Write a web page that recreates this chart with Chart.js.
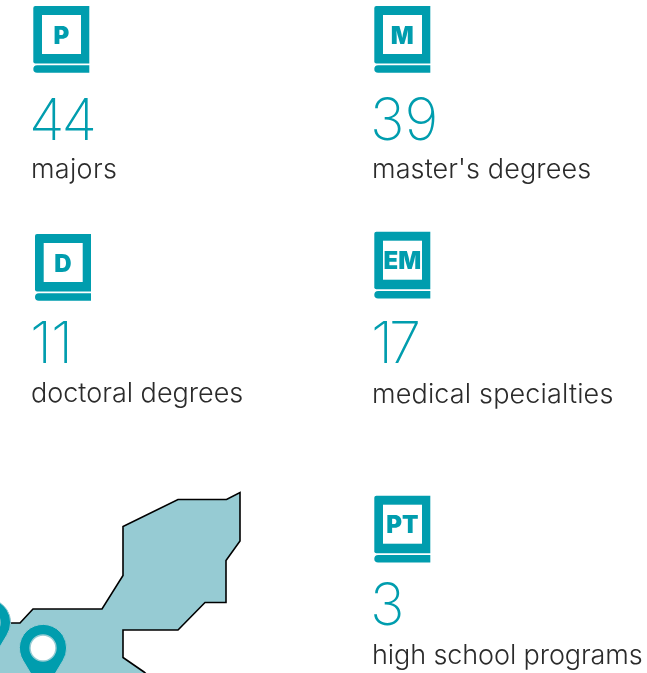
<!DOCTYPE html>
<html>
<head>
<meta charset="utf-8">
<script src="https://cdn.jsdelivr.net/npm/chart.js@4"></script>
<style>
html, body { margin: 0; padding: 0; background: #fff; overflow: hidden; }
#wrap { position: relative; width: 647px; height: 673px; }
</style>
</head>
<body>
<div id="wrap"><canvas id="statsChart"></canvas></div>
<script>
const statCodes = ['P', 'M', 'D', 'EM', 'PT'];
const statValues = [44, 39, 11, 17, 3];
const statLabels = ['majors', "master's degrees", 'doctoral degrees', 'medical specialties', 'high school programs'];

// where each block sits, in axis units (the axes run 1:1 with the page)
const iconX = [33.3, 374.3, 35, 374.3, 374.3];
const iconY = [6, 6, 234, 231.7, 495.7];
const valueX = [29, 370, 30, 371, 370];
const valueY = [140, 140, 363, 363, 625];
const valueSpacing = [-3, 0, -1, -4, 0];
const labelX = [31, 372, 31, 372, 372];
const labelY = [178, 178, 402, 403, 664];
const labelSpacing = [0.3, 0.1, 0, 0.15, -0.1];

const mapX = [-20, 20, 33, 102, 123, 123, 178, 226.5, 240, 240, 226, 226, 205, 178, 123, 123, 144, 170, -20];
const mapY = [623, 623, 609, 609, 575.5, 526.5, 499.5, 499.5, 492.5, 541, 560.5, 602.5, 602.5, 630, 630, 657.5, 672, 695, 695];
const pinX = [-13, 43];
const pinY = [622.5, 648];

const TEAL = '#009DAE';

function drawBook(ctx, x, y) {
    ctx.fillStyle = TEAL;
    ctx.beginPath();
    ctx.roundRect(x, y, 56, 57.5, [2, 0, 0, 2]);
    ctx.fill();
    ctx.beginPath();
    ctx.roundRect(x, y + 59.2, 56, 7.6, [3.8, 0, 0, 3.8]);
    ctx.fill();
    ctx.fillStyle = '#fff';
    ctx.fillRect(x + 8.7, y + 9, 39, 39);
}

const infographicPlugin = {
    id: 'infographic',
    afterDatasetsDraw(chart) {
        const { ctx, scales: { x, y } } = chart;
        ctx.save();

        // map pins
        pinX.forEach((px, i) => {
            const cx = x.getPixelForValue(px);
            const cy = y.getPixelForValue(pinY[i]);
            ctx.fillStyle = TEAL;
            ctx.beginPath();
            ctx.arc(cx, cy, 23.6, Math.PI * 0.82, Math.PI * 0.18);
            ctx.lineTo(cx, cy + 46);
            ctx.closePath();
            ctx.fill();
            ctx.strokeStyle = '#96CBD3';
            ctx.lineWidth = 1;
            ctx.stroke();
            ctx.fillStyle = '#fff';
            ctx.beginPath();
            ctx.arc(cx, cy, 13, 0, Math.PI * 2);
            ctx.fill();
            ctx.lineWidth = 1.4;
            ctx.stroke();
        });

        statCodes.forEach((code, i) => {
            const ix = x.getPixelForValue(iconX[i]);
            const iy = y.getPixelForValue(iconY[i]);
            drawBook(ctx, ix, iy);

            ctx.fillStyle = TEAL;
            ctx.textAlign = 'center';
            ctx.textBaseline = 'alphabetic';
            ctx.letterSpacing = '0px';
            ctx.font = '900 24px Inter, sans-serif';
            ctx.fillText(code, ix + 28, iy + 37.5);

            ctx.textAlign = 'left';
            ctx.letterSpacing = valueSpacing[i] + 'px';
            ctx.font = '200 58px Inter, sans-serif';
            ctx.fillText(String(statValues[i]), x.getPixelForValue(valueX[i]), y.getPixelForValue(valueY[i]));

            ctx.fillStyle = '#2B2B2B';
            ctx.letterSpacing = labelSpacing[i] + 'px';
            ctx.font = '300 27px Inter, sans-serif';
            ctx.fillText(statLabels[i], x.getPixelForValue(labelX[i]), y.getPixelForValue(labelY[i]));
        });
        ctx.restore();
    }
};

new Chart(document.getElementById('statsChart'), {
    type: 'scatter',
    data: {
        datasets: [{
            label: 'map',
            data: mapX.map((v, i) => ({ x: v, y: mapY[i] })),
            showLine: true,
            fill: 'shape',
            backgroundColor: '#96CBD3',
            borderColor: '#000',
            borderWidth: 1.6,
            pointRadius: 0,
            tension: 0
        }]
    },
    options: {
        responsive: true,
        maintainAspectRatio: false,
        animation: false,
        layout: { padding: 0 },
        plugins: { legend: { display: false }, tooltip: { enabled: false } },
        scales: {
            x: { type: 'linear', min: 0, max: 647, display: false },
            y: { type: 'linear', min: 0, max: 673, reverse: true, display: false }
        }
    },
    plugins: [infographicPlugin]
});
</script>
</body>
</html>
